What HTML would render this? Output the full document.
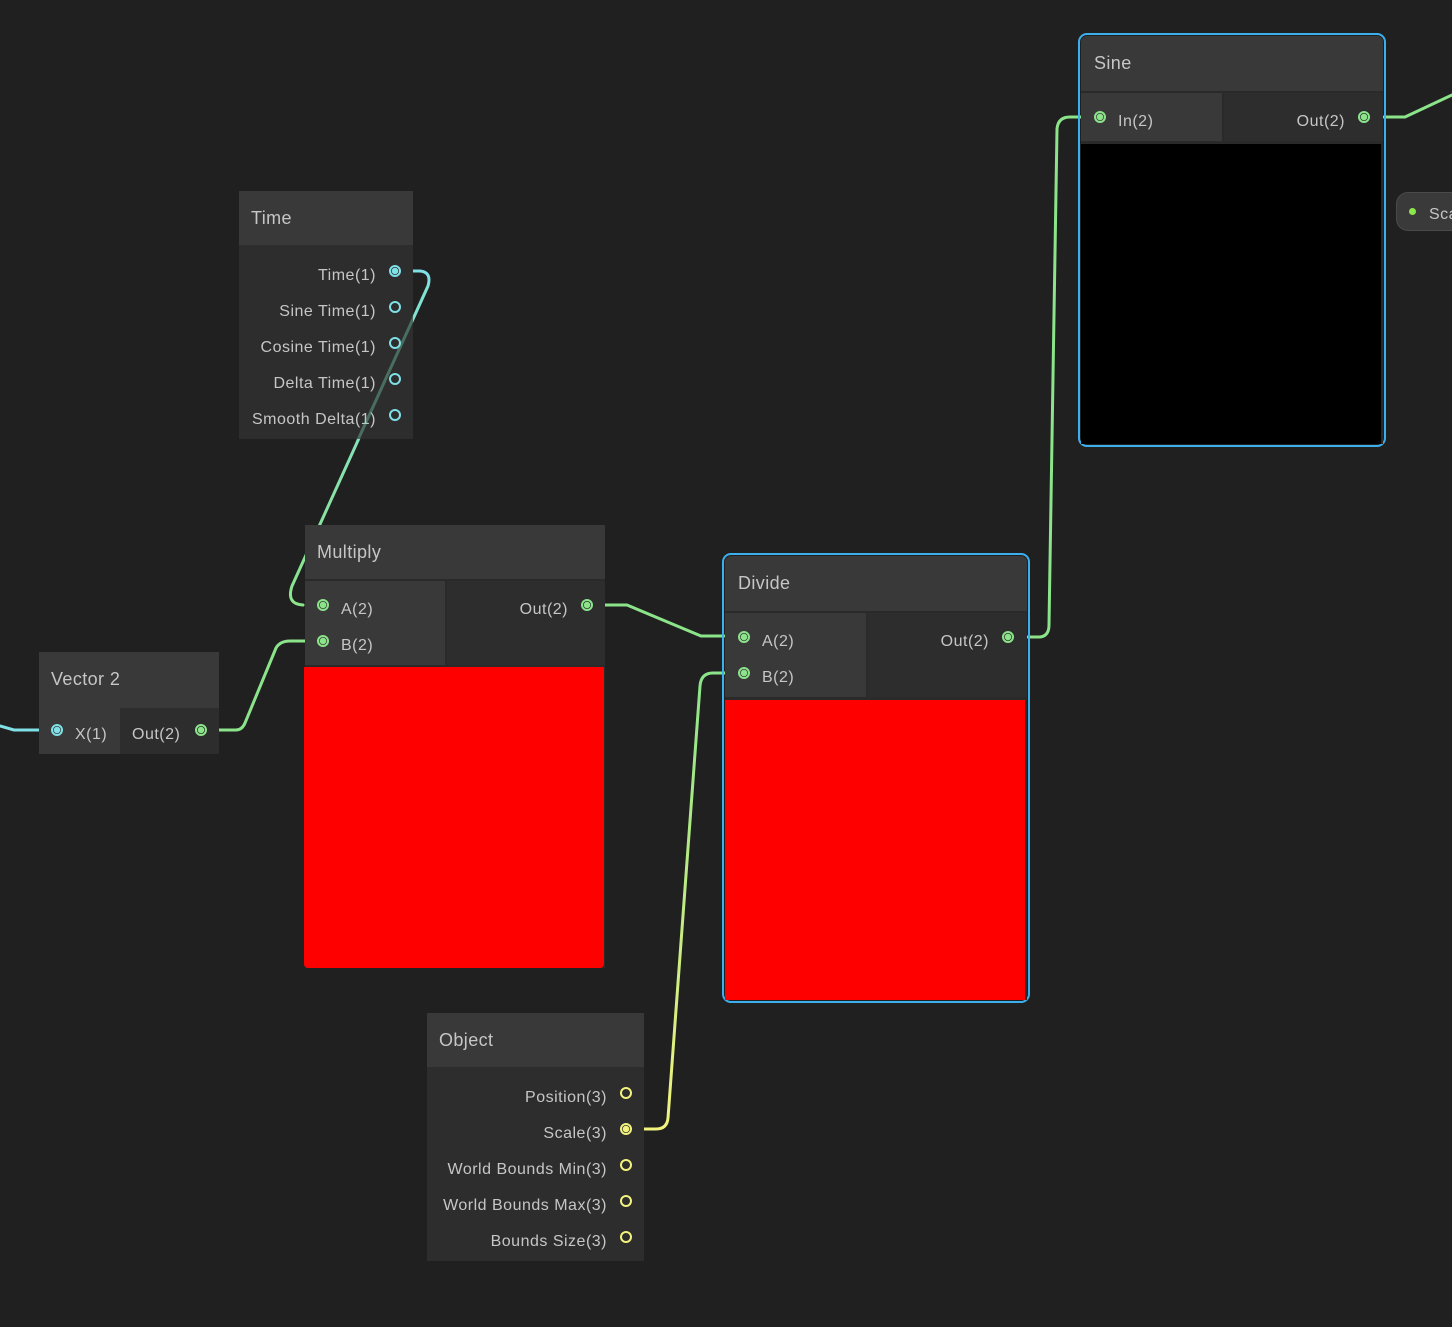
<!DOCTYPE html>
<html><head><meta charset="utf-8"><style>
*{box-sizing:border-box;margin:0;padding:0}
body{width:1452px;height:1327px;background:#202020;position:relative;overflow:hidden;font-family:"Liberation Sans",sans-serif;color:#c6c6c6}
.a{position:absolute}
.hd{background:#393939;font-size:18px;padding-left:12px;display:flex;align-items:center;letter-spacing:0.4px}
.bd{background:#2d2d2d}
.in{background:#393939}
.t{position:absolute;font-size:16px;white-space:nowrap;line-height:20px;letter-spacing:0.5px;margin-top:2px}
.r{text-align:right}
.p{position:absolute;width:12px;height:12px;border-radius:50%;border:2px solid}
.g{border-color:#8ce48a}.c{border-color:#7fe0e6}.y{border-color:#f2f27e}
.fg{background:radial-gradient(circle,#8ce48a 0 3px,transparent 3.5px)}
.fc{background:radial-gradient(circle,#7fe0e6 0 3px,transparent 3.5px)}
.fy{background:radial-gradient(circle,#f2f27e 0 3px,transparent 3.5px)}
.sel{position:absolute;border:2px solid #3cb0ef;border-radius:9px}
</style></head><body>

<svg class="a" style="left:0;top:0" width="1452" height="1327">
<defs>
<linearGradient id="tg" gradientUnits="userSpaceOnUse" x1="0" y1="271" x2="0" y2="605"><stop offset="0" stop-color="#7fe0e6"/><stop offset="1" stop-color="#8ce48a"/></linearGradient>
<linearGradient id="yg" gradientUnits="userSpaceOnUse" x1="0" y1="673" x2="0" y2="1129"><stop offset="0" stop-color="#8ce48a"/><stop offset="1" stop-color="#f2f27e"/></linearGradient>
</defs>
<g fill="none" stroke-width="3" stroke-linecap="round" stroke-linejoin="round">
<path d="M413 271 H420 Q432 272 428 286 L292 586 Q286 604 303 605" stroke="url(#tg)"/>
<path d="M219 730 H236 Q242 730 245 723 L276 648 Q280 641 290 641 H305" stroke="#8ce48a"/>
<path d="M605 605 H627 L701 636 H724" stroke="#8ce48a"/>
<path d="M1028 637 H1040 Q1049 636 1049 625 L1057 129 Q1058 117 1070 117 H1081" stroke="#8ce48a"/>
<path d="M1384 117 H1405 L1452 95" stroke="#8ce48a"/>
<path d="M644 1129 H656 Q667 1129 668 1118 L700 686 Q701 673 713 673 H725" stroke="url(#yg)"/>
<path d="M0 726 L14 730 H39" stroke="#7fe0e6"/>
</g>
</svg>

<!-- Time -->
<div class="a" style="left:239px;top:191px;width:174px;height:248px;background:#2d2d2d">
 <div class="hd" style="height:54px">Time</div>
</div>
<div class="t r" style="left:240px;top:264px;width:136px">Time(1)</div>
<div class="t r" style="left:240px;top:300px;width:136px">Sine Time(1)</div>
<div class="t r" style="left:240px;top:336px;width:136px">Cosine Time(1)</div>
<div class="t r" style="left:240px;top:372px;width:136px">Delta Time(1)</div>
<div class="t r" style="left:240px;top:408px;width:136px">Smooth Delta(1)</div>
<div class="p c fc" style="left:389px;top:265px"></div>
<div class="p c" style="left:389px;top:301px"></div>
<div class="p c" style="left:389px;top:337px"></div>
<div class="p c" style="left:389px;top:373px"></div>
<div class="p c" style="left:389px;top:409px"></div>

<!-- overlay of wire through Time node -->
<svg class="a" style="left:0;top:0;opacity:0.35" width="1452" height="1327">
<path d="M428 286 L357 442" stroke="#7fe6c0" stroke-width="3" fill="none"/>
</svg>
<div class="a" style="left:305px;top:525px;width:300px;height:443px;background:#2a2a2a">
 <div class="hd" style="height:54px">Multiply</div>
 <div class="a in" style="left:0;top:56px;width:140px;height:84px"></div>
 <div class="a bd" style="left:142px;top:56px;width:158px;height:84px"></div>
 <div class="a" style="left:-1px;top:142px;width:300px;height:301px;background:#ff0000;border-radius:0 0 4px 4px"></div>
</div>
<div class="t" style="left:341px;top:598px">A(2)</div>
<div class="t" style="left:341px;top:634px">B(2)</div>
<div class="t r" style="left:470px;top:598px;width:98px">Out(2)</div>
<div class="p g fg" style="left:317px;top:599px"></div>
<div class="p g fg" style="left:317px;top:635px"></div>
<div class="p g fg" style="left:581px;top:599px"></div>

<!-- Vector 2 -->
<div class="a" style="left:39px;top:652px;width:180px;height:102px;background:#393939">
 <div class="hd" style="height:54px">Vector 2</div>
 <div class="a bd" style="left:81px;top:56px;width:99px;height:46px"></div>
</div>
<div class="t" style="left:75px;top:723px">X(1)</div>
<div class="t" style="left:132px;top:723px">Out(2)</div>
<div class="p c fc" style="left:51px;top:724px"></div>
<div class="p g fg" style="left:195px;top:724px"></div>

<!-- Divide -->
<div class="sel" style="left:722px;top:553px;width:308px;height:450px"></div>
<div class="a" style="left:725px;top:556px;width:302px;height:444px;background:#2a2a2a;border-radius:6px 6px 0 0;overflow:hidden">
 <div class="hd" style="height:55px;padding-left:13px">Divide</div>
 <div class="a in" style="left:0;top:57px;width:141px;height:84px"></div>
 <div class="a bd" style="left:143px;top:57px;width:159px;height:84px"></div>
 <div class="a" style="left:0;top:144px;width:300px;height:300px;background:#ff0000"></div>
</div>
<div class="t" style="left:762px;top:630px">A(2)</div>
<div class="t" style="left:762px;top:666px">B(2)</div>
<div class="t r" style="left:890px;top:630px;width:99px">Out(2)</div>
<div class="p g fg" style="left:738px;top:631px"></div>
<div class="p g fg" style="left:738px;top:667px"></div>
<div class="p g fg" style="left:1002px;top:631px"></div>

<!-- Sine -->
<div class="sel" style="left:1078px;top:33px;width:308px;height:414px"></div>
<div class="a" style="left:1081px;top:36px;width:302px;height:408px;background:#2a2a2a;border-radius:6px 6px 0 0;overflow:hidden">
 <div class="hd" style="height:55px;padding-left:13px">Sine</div>
 <div class="a in" style="left:0;top:57px;width:141px;height:48px"></div>
 <div class="a bd" style="left:143px;top:57px;width:159px;height:48px"></div>
 <div class="a" style="left:0;top:108px;width:300px;height:300px;background:#000"></div>
</div>
<div class="t" style="left:1118px;top:110px">In(2)</div>
<div class="t r" style="left:1245px;top:110px;width:100px">Out(2)</div>
<div class="p g fg" style="left:1094px;top:111px"></div>
<div class="p g fg" style="left:1358px;top:111px"></div>

<!-- Sca pill -->
<div class="a" style="left:1396px;top:192px;width:80px;height:39px;background:#3a3a3a;border-radius:12px;border:1px solid #4a4a4a"></div>
<div class="a" style="left:1409px;top:208px;width:7px;height:7px;border-radius:50%;background:#8ce84a"></div>
<div class="t" style="left:1429px;top:203px">Sca</div>

<!-- Object -->
<div class="a" style="left:427px;top:1013px;width:217px;height:248px;background:#2d2d2d">
 <div class="hd" style="height:54px">Object</div>
</div>
<div class="t r" style="left:428px;top:1086px;width:179px">Position(3)</div>
<div class="t r" style="left:428px;top:1122px;width:179px">Scale(3)</div>
<div class="t r" style="left:428px;top:1158px;width:179px">World Bounds Min(3)</div>
<div class="t r" style="left:428px;top:1194px;width:179px">World Bounds Max(3)</div>
<div class="t r" style="left:428px;top:1230px;width:179px">Bounds Size(3)</div>
<div class="p y" style="left:620px;top:1087px"></div>
<div class="p y fy" style="left:620px;top:1123px"></div>
<div class="p y" style="left:620px;top:1159px"></div>
<div class="p y" style="left:620px;top:1195px"></div>
<div class="p y" style="left:620px;top:1231px"></div>

</body></html>
